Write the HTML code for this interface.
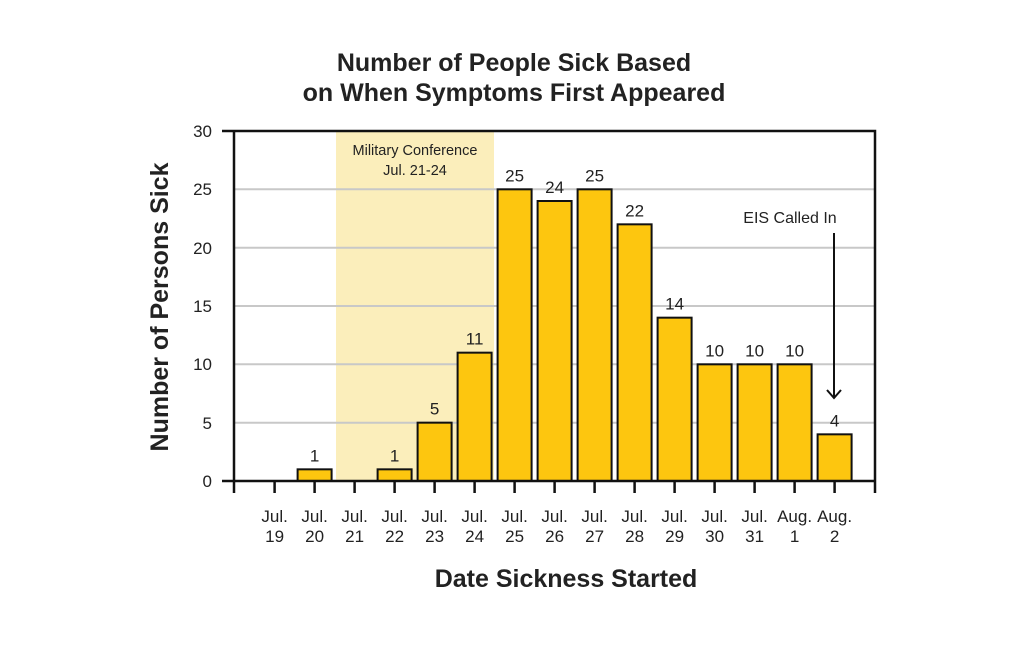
<!DOCTYPE html>
<html><head><style>body{margin:0;background:#fff}</style></head><body>
<svg width="1024" height="640" xmlns="http://www.w3.org/2000/svg" font-family="Liberation Sans, Arial, sans-serif">
<rect width="1024" height="640" fill="#fff"/>
<text x="514" y="71" font-size="25" font-weight="bold" text-anchor="middle" fill="#222">Number of People Sick Based</text>
<text x="514" y="101" font-size="25" font-weight="bold" text-anchor="middle" fill="#222">on When Symptoms First Appeared</text>
<rect x="336" y="131" width="158" height="350" fill="#fbeebb"/>
<g stroke="#c8c8c8" stroke-width="2">
<line x1="234" x2="875" y1="189.3" y2="189.3"/><line x1="234" x2="875" y1="247.7" y2="247.7"/>
<line x1="234" x2="875" y1="306" y2="306"/><line x1="234" x2="875" y1="364.3" y2="364.3"/>
<line x1="234" x2="875" y1="422.7" y2="422.7"/>
</g>
<text x="415" y="155" font-size="14.5" text-anchor="middle" fill="#222">Military Conference</text>
<text x="415" y="175" font-size="14.5" text-anchor="middle" fill="#222">Jul. 21-24</text>
<g fill="#fdc60f" stroke="#111" stroke-width="2" id="bars"></g>
<g font-size="17" text-anchor="middle" fill="#222" id="vals"></g>
<g stroke="#111" stroke-width="2.5" fill="none">
<polyline points="222,131 875,131 875,493"/>
<line x1="234" y1="131" x2="234" y2="493"/>
<line x1="222" y1="481" x2="875" y2="481"/>
</g>
<g font-size="17" text-anchor="end" fill="#222">
<text x="212" y="137">30</text><text x="212" y="195">25</text><text x="212" y="254">20</text>
<text x="212" y="312">15</text><text x="212" y="370">10</text><text x="212" y="429">5</text><text x="212" y="487">0</text>
</g>
<g stroke="#111" stroke-width="2.5" id="ticks"></g>
<g font-size="17" text-anchor="middle" fill="#222" id="cats"></g>
<text x="790" y="223" font-size="16" text-anchor="middle" fill="#222">EIS Called In</text>
<g stroke="#111" stroke-width="2" fill="none">
<line x1="834" y1="233" x2="834" y2="398"/><polyline points="827,390 834,398 841,390"/>
</g>
<text transform="translate(168,307) rotate(-90)" font-size="25" font-weight="bold" text-anchor="middle" fill="#222">Number of Persons Sick</text>
<text x="566" y="587" font-size="25" font-weight="bold" text-anchor="middle" fill="#222">Date Sickness Started</text>
<script>
var v=[0,1,0,1,5,11,25,24,25,22,14,10,10,10,4];
var l1=["Jul.","Jul.","Jul.","Jul.","Jul.","Jul.","Jul.","Jul.","Jul.","Jul.","Jul.","Jul.","Jul.","Aug.","Aug."];
var l2=["19","20","21","22","23","24","25","26","27","28","29","30","31","1","2"];
var ns="http://www.w3.org/2000/svg",b=document.getElementById("bars"),vs=document.getElementById("vals"),t=document.getElementById("ticks"),c=document.getElementById("cats");
function el(p,n,a,tx){var e=document.createElementNS(ns,n);for(var k in a)e.setAttribute(k,a[k]);if(tx)e.textContent=tx;p.appendChild(e);}
for(var i=0;i<15;i++){var cx=274.6+40*i,h=v[i]*350/30;
if(v[i]>0){el(b,"rect",{x:cx-17,y:481-h,width:34,height:h});el(vs,"text",{x:cx,y:481-h-8},""+v[i]);}
el(t,"line",{x1:cx,x2:cx,y1:481,y2:493});
el(c,"text",{x:cx,y:522},l1[i]);el(c,"text",{x:cx,y:542},l2[i]);}
</script>
</svg>
</body></html>
